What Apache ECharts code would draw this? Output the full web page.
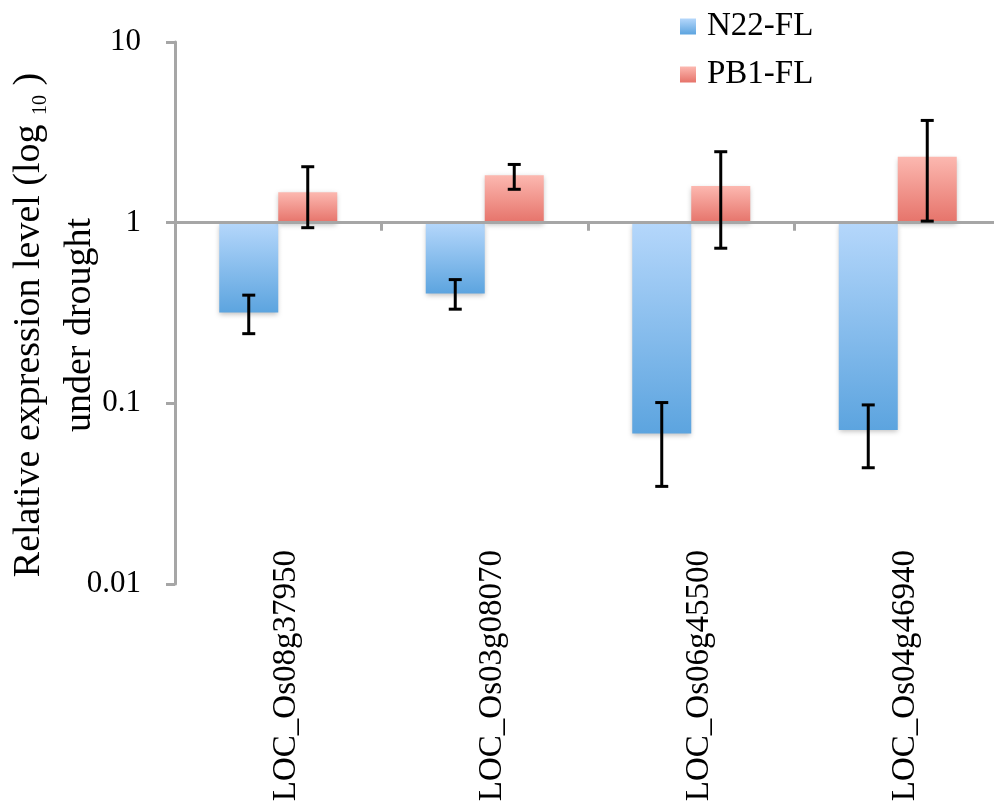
<!DOCTYPE html>
<html>
<head>
<meta charset="utf-8">
<script src="https://cdn.jsdelivr.net/npm/echarts@6/dist/echarts.min.js"></script>
<style>
  html, body { margin: 0; padding: 0; background: #fff; }
  #chart { width: 994px; height: 808px; }
</style>
</head>
<body>
<div id="chart"></div>
<script>
// genes on the x axis
const genes = ['LOC_Os08g37950', 'LOC_Os03g08070', 'LOC_Os06g45500', 'LOC_Os04g46940'];
const seriesNames = ['N22-FL', 'PB1-FL'];

// relative expression (linear values, drawn on log axis)
const n22 = [0.318, 0.405, 0.068, 0.0713];
const n22Low = [0.243, 0.332, 0.0347, 0.044];
const n22High = [0.397, 0.484, 0.101, 0.098];

const pb1 = [1.473, 1.83, 1.596, 2.32];
const pb1Low = [0.938, 1.53, 0.722, 1.02];
const pb1High = [2.04, 2.10, 2.47, 3.68];

const yTicks = [0.01, 0.1, 1, 10];

const font = "'Liberation Serif', 'Times New Roman', serif";
const grey = '#a6a6a6';
const barW = 59;

let myChart = echarts.init(document.getElementById('chart'));

function errData(low, high) {
  return low.map((l, i) => [i, l, high[i]]);
}

// error bar drawn with a custom series, shifted to its bar
function errorBar(shift) {
  return function (params, api) {
    let lo = api.coord([api.value(0), api.value(1)]);
    let hi = api.coord([api.value(0), api.value(2)]);
    let x = lo[0] + shift;
    let cap = 6.5;
    let style = { stroke: '#000', lineWidth: 3 };
    return {
      type: 'group',
      children: [
        { type: 'line', shape: { x1: x, y1: lo[1], x2: x, y2: hi[1] }, style: style },
        { type: 'line', shape: { x1: x - cap, y1: lo[1], x2: x + cap, y2: lo[1] }, style: style },
        { type: 'line', shape: { x1: x - cap, y1: hi[1], x2: x + cap, y2: hi[1] }, style: style }
      ]
    };
  };
}

function grad(top, bottom) {
  return new echarts.graphic.LinearGradient(0, 0, 0, 1, [
    { offset: 0, color: top },
    { offset: 1, color: bottom }
  ]);
}

myChart.setOption({
  animation: false,
  backgroundColor: '#fff',
  textStyle: { fontFamily: font },
  // y axis title, both lines in one rotated rich text
  graphic: [
    {
      type: 'text',
      x: 58,
      y: 325,
      rotation: Math.PI / 2,
      style: {
        text: '{a|Relative expression level (log }{s|10}{a| )}\n{b|under drought}',
        align: 'center',
        verticalAlign: 'middle',
        rich: {
          a: { fontFamily: font, fontSize: 38, fill: '#000', lineHeight: 44 },
          s: { fontFamily: font, fontSize: 20, fill: '#000', lineHeight: 14, verticalAlign: 'bottom' },
          b: { fontFamily: font, fontSize: 38, fill: '#000', lineHeight: 58 }
        }
      }
    }
  ],
  legend: {
    orient: 'vertical',
    left: 675,
    top: 5,
    itemWidth: 16,
    itemHeight: 16,
    itemGap: 15,
    icon: 'rect',
    data: seriesNames,
    textStyle: { fontFamily: font, fontSize: 33, color: '#000', padding: [0, 0, 0, 6] }
  },
  grid: { left: 175, top: 42, width: 826, height: 542, outerBoundsMode: 'none' },
  xAxis: [
    {
      type: 'category',
      data: genes,
      position: 'bottom',
      axisLine: { show: false },
      axisTick: { show: false },
      axisLabel: {
        interval: 0,
        rotate: 90,
        margin: -34,
        verticalAlign: 'top',
        lineHeight: 16,
        fontFamily: font,
        fontSize: 33,
        color: '#000'
      }
    },
    {
      // axis line drawn through 1
      type: 'category',
      data: genes,
      position: 'top',
      offset: -180.7,
      z: 5,
      axisLine: { show: true, lineStyle: { color: grey, width: 3 } },
      axisTick: { show: true, inside: true, length: 8, lineStyle: { color: grey, width: 3 } },
      axisLabel: { show: false }
    }
  ],
  yAxis: {
    type: 'log',
    logBase: 10,
    min: 0.01,
    max: 10,
    interval: 1,
    axisLine: { show: true, lineStyle: { color: grey, width: 3 } },
    axisTick: { show: true, length: 9, lineStyle: { color: grey, width: 3 } },
    splitLine: { show: false },
    axisLabel: {
      margin: 34,
      fontFamily: font,
      fontSize: 31,
      color: '#000',
      formatter: function (v) {
        let t = yTicks.find(k => Math.abs(k - v) / k < 1e-6);
        return t === undefined ? '' : String(t);
      }
    }
  },
  series: [
    {
      name: seriesNames[0],
      type: 'bar',
      data: n22,
      barWidth: barW,
      barGap: '0%',
      itemStyle: {
        color: grad('#b5d7fb', '#5ca4df'),
        shadowBlur: 5,
        shadowOffsetY: 2,
        shadowColor: 'rgba(0,0,0,0.25)'
      }
    },
    {
      name: seriesNames[1],
      type: 'bar',
      data: pb1,
      barWidth: barW,
      barGap: '0%',
      itemStyle: {
        color: grad('#fcb8b0', '#e6736a'),
        shadowBlur: 5,
        shadowOffsetY: 2,
        shadowColor: 'rgba(0,0,0,0.25)'
      }
    },
    {
      type: 'custom',
      data: errData(n22Low, n22High),
      renderItem: errorBar(-barW / 2),
      z: 10,
      silent: true
    },
    {
      type: 'custom',
      data: errData(pb1Low, pb1High),
      renderItem: errorBar(barW / 2),
      z: 10,
      silent: true
    }
  ]
});
</script>
</body>
</html>
